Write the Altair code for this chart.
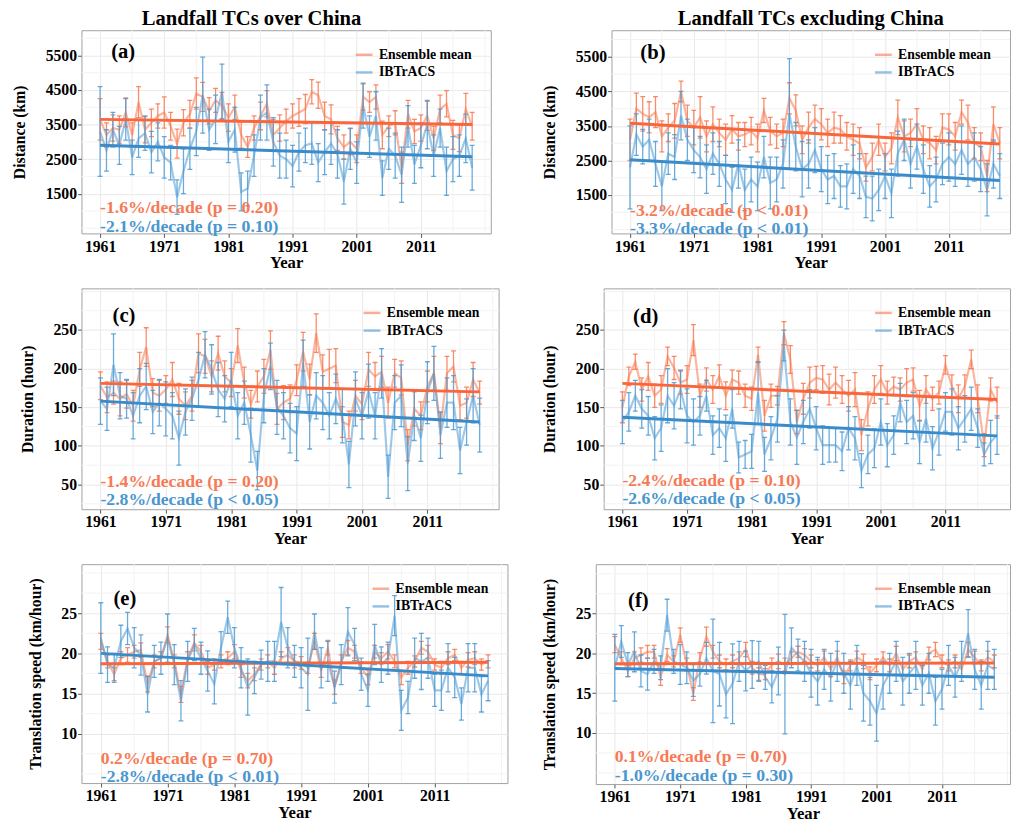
import altair as alt
import pandas as pd

# ---------------- data ----------------
YEARS = list(range(1961, 2020))
SERIES = ["Ensemble mean", "IBTrACS"]
X_TICKS = [1961, 1971, 1981, 1991, 2001, 2011]
X_MINOR = [1966, 1976, 1986, 1996, 2006, 2016, 2021]
X_START = 1958.1

# (a) Distance, landfall over China
A_ENS = [3650, 3200, 3400, 3350, 3850, 3200, 4150, 3350, 3550, 3750,
         3850, 3450, 2950, 3550, 3800, 4400, 4300, 3900, 4200, 4050,
         3700, 4000, 3200, 2850, 3400, 3750, 4100, 3200, 3400, 3600,
         3750, 3850, 3950, 4450, 4350, 3750, 3650, 3100, 2850, 3000,
         2800, 4300, 4150, 4300, 3200, 3450, 3550, 2250, 3800, 3300,
         3400, 3750, 3100, 3950, 4100, 3200, 3100, 3950, 3450]
A_ENS_ERR = [600, 350, 380, 400, 420, 350, 450, 380, 400, 350,
             450, 400, 420, 380, 400, 450, 420, 380, 350, 380,
             400, 350, 380, 300, 350, 400, 380, 450, 380, 350,
             350, 400, 420, 350, 380, 400, 420, 350, 350, 380,
             400, 380, 300, 350, 400, 300, 350, 450, 400, 350,
             380, 420, 350, 400, 380, 420, 380, 450, 400]
A_OBS = [3300, 2750, 3350, 2900, 3650, 2550, 3100, 3250, 2700, 3000,
         2550, 2400, 1400, 2150, 2800, 3300, 4350, 3350, 3650, 4450,
         3000, 3350, 1550, 1650, 2600, 3700, 3850, 3000, 2600, 2500,
         2300, 2700, 2900, 2950, 2400, 2700, 2950, 2650, 1850, 2800,
         2400, 4050, 3150, 3750, 1950, 2800, 2600, 2050, 3450, 2350,
         2900, 3500, 2600, 3400, 2150, 2500, 2600, 3100, 2250]
A_OBS_ERR = [1300, 600, 500, 550, 600, 500, 550, 500, 600, 550,
             600, 500, 500, 650, 600, 700, 1100, 600, 700, 800,
             600, 650, 550, 500, 600, 650, 800, 700, 650, 550,
             600, 550, 500, 600, 550, 650, 600, 700, 650, 600,
             600, 650, 600, 700, 500, 600, 650, 800, 600, 550,
             650, 700, 600, 550, 700, 650, 600, 700, 650]
A_TREND_ENS = [3650, 3500]
A_TREND_OBS = [2900, 2570]

# (b) Distance, landfall excluding China
B_ENS = [3100, 4000, 3850, 3750, 3900, 3200, 3450, 3650, 4500, 3650,
         3450, 3750, 3200, 3550, 3300, 3100, 3400, 3200, 3250, 3350,
         3150, 3950, 3350, 3200, 3300, 4300, 3950, 3100, 3450, 3700,
         3550, 3300, 3450, 3400, 3200, 3100, 3000, 2300, 2600, 3100,
         2600, 2850, 3750, 3200, 3300, 3550, 3100, 3000, 2800, 3450,
         3400, 3200, 3900, 3600, 3000, 2900, 2050, 3550, 3000]
B_ENS_ERR = [600, 450, 500, 450, 450, 450, 400, 500, 300, 450,
             500, 600, 450, 500, 400, 450, 400, 400, 350, 400,
             400, 350, 400, 350, 400, 450, 450, 400, 450, 400,
             450, 400, 450, 400, 400, 450, 450, 400, 400, 450,
             400, 450, 500, 450, 400, 450, 400, 450, 400, 400,
             450, 400, 350, 500, 450, 400, 450, 500, 450]
B_OBS = [2300, 3250, 2900, 3100, 2400, 1750, 2700, 2600, 3800, 3100,
         2800, 2600, 2250, 2700, 2400, 1950, 1650, 2400, 1650, 1950,
         1750, 2600, 1850, 1950, 2400, 3850, 2900, 2250, 2400, 2800,
         2250, 1950, 2050, 1750, 1750, 2250, 2050, 1450, 1400, 1650,
         2050, 1550, 2700, 3100, 2400, 2900, 2250, 1750, 1950, 2400,
         2600, 2400, 2800, 2400, 2600, 2250, 1650, 2400, 2050]
B_OBS_ERR = [1200, 600, 500, 600, 650, 700, 600, 650, 700, 600,
             650, 600, 700, 600, 650, 700, 650, 700, 600, 650,
             700, 600, 750, 650, 700, 1600, 700, 800, 700, 650,
             650, 700, 650, 600, 650, 700, 650, 600, 650, 600,
             650, 700, 650, 600, 700, 650, 700, 600, 650, 600,
             700, 650, 700, 650, 700, 650, 750, 700, 650]
B_TREND_ENS = [3580, 2980]
B_TREND_OBS = [2520, 1920]

# (c) Duration, landfall over China
C_ENS = [178, 163, 169, 161, 167, 152, 199, 228, 169, 165,
         173, 186, 161, 152, 165, 220, 216, 190, 220, 190,
         182, 230, 182, 154, 177, 190, 224, 148, 156, 161,
         185, 222, 186, 246, 196, 200, 204, 131, 127, 165,
         154, 199, 190, 196, 156, 194, 188, 101, 148, 139,
         177, 194, 123, 194, 203, 152, 156, 186, 169]
C_ENS_ERR = [18, 20, 15, 22, 18, 20, 22, 25, 18, 20,
             18, 22, 20, 18, 20, 25, 22, 20, 22, 20,
             18, 22, 20, 18, 20, 22, 25, 20, 22, 18,
             20, 25, 20, 25, 22, 25, 22, 20, 18, 20,
             20, 22, 18, 20, 20, 18, 22, 20, 22, 18,
             20, 22, 20, 22, 20, 18, 20, 22, 15]
C_OBS = [158, 148, 205, 165, 161, 139, 165, 177, 144, 156,
         148, 139, 110, 144, 161, 186, 218, 199, 173, 161,
         186, 139, 156, 114, 68, 165, 203, 150, 139, 123,
         116, 207, 131, 165, 156, 139, 161, 139, 76, 161,
         139, 171, 139, 194, 60, 156, 165, 77, 139, 110,
         169, 194, 114, 156, 156, 94, 131, 165, 127]
C_OBS_ERR = [30, 28, 40, 30, 25, 30, 35, 30, 28, 30,
             35, 30, 35, 30, 28, 35, 30, 32, 35, 30,
             35, 30, 28, 35, 25, 35, 30, 35, 30, 32,
             35, 30, 35, 30, 35, 30, 32, 35, 30, 35,
             30, 35, 30, 32, 28, 35, 40, 35, 32, 30,
             40, 35, 30, 32, 35, 30, 30, 35, 35]
C_TREND_ENS = [181, 170]
C_TREND_OBS = [158, 131]

# (d) Duration, landfall excluding China
D_ENS = [150, 190, 209, 173, 190, 165, 173, 216, 201, 182,
         186, 237, 165, 186, 173, 190, 165, 186, 182, 165,
         161, 218, 139, 165, 165, 246, 212, 131, 161, 182,
         188, 186, 173, 182, 173, 165, 173, 114, 148, 173,
         186, 169, 177, 173, 182, 186, 152, 173, 161, 169,
         205, 177, 161, 177, 212, 161, 101, 173, 156]
D_ENS_ERR = [20, 12, 10, 15, 18, 15, 18, 12, 15, 15,
             18, 20, 15, 15, 18, 15, 18, 12, 15, 15,
             15, 10, 20, 15, 12, 15, 18, 15, 20, 20,
             15, 18, 20, 20, 18, 20, 22, 20, 22, 18,
             18, 15, 12, 15, 18, 15, 20, 18, 15, 15,
             12, 15, 18, 15, 12, 18, 15, 15, 20]
D_OBS = [131, 144, 165, 148, 139, 110, 123, 165, 152, 173,
         139, 131, 139, 165, 114, 123, 110, 148, 85, 89,
         93, 169, 89, 110, 135, 230, 131, 111, 131, 148,
         123, 101, 101, 101, 93, 123, 110, 68, 89, 97,
         131, 101, 114, 156, 131, 139, 105, 135, 97, 118,
         144, 144, 123, 135, 148, 123, 89, 105, 114]
D_OBS_ERR = [28, 25, 20, 25, 25, 28, 30, 35, 30, 25,
             35, 30, 25, 20, 25, 25, 30, 25, 20, 18,
             22, 40, 22, 28, 30, 20, 30, 35, 28, 25,
             28, 25, 22, 22, 25, 28, 28, 22, 25, 25,
             30, 28, 25, 25, 28, 30, 28, 30, 28, 30,
             25, 30, 28, 30, 28, 25, 15, 28, 25]
D_TREND_ENS = [181, 160]
D_TREND_OBS = [137, 113]

# (e) Translation speed, landfall over China
E_ENS = [21.5, 19.0, 17.4, 19.4, 19.8, 20.2, 20.4, 16.2, 19.0, 19.4,
         22.3, 19.0, 14.9, 19.4, 21.3, 20.2, 18.2, 18.6, 19.0, 19.4,
         20.2, 17.8, 16.6, 17.4, 18.6, 19.0, 18.2, 19.4, 19.8, 19.0,
         18.8, 18.2, 21.5, 17.8, 20.7, 15.8, 19.0, 20.7, 20.2, 18.2,
         17.0, 20.2, 19.4, 20.2, 19.0, 17.0, 18.2, 19.0, 20.7, 20.2,
         18.6, 18.2, 19.4, 19.8, 18.2, 19.2, 19.4, 18.6, 19.0]
E_ENS_ERR = [1.0, 0.8, 0.8, 0.8, 0.9, 0.8, 0.9, 1.0, 0.8, 0.8,
             1.0, 0.8, 1.0, 0.8, 1.0, 0.8, 0.8, 0.7, 0.8, 0.8,
             0.9, 0.8, 0.9, 0.8, 0.7, 0.8, 0.8, 0.8, 0.9, 0.8,
             0.8, 0.7, 1.0, 0.8, 0.9, 0.9, 0.8, 0.9, 0.8, 0.7,
             0.9, 0.8, 0.7, 0.9, 0.8, 0.9, 0.8, 0.7, 0.8, 0.8,
             0.7, 0.8, 0.8, 0.7, 0.8, 0.9, 0.8, 0.7, 0.8]
E_OBS = [21.9, 18.6, 18.2, 21.5, 23.1, 20.7, 19.8, 14.9, 19.0, 19.4,
         21.9, 18.6, 14.1, 19.0, 21.1, 19.4, 17.8, 16.2, 20.7, 24.5,
         20.7, 18.2, 15.8, 17.0, 18.6, 19.0, 19.0, 23.9, 20.7, 19.0,
         18.2, 17.4, 22.7, 18.2, 19.0, 15.8, 18.6, 22.7, 21.1, 17.4,
         15.4, 21.1, 18.6, 19.4, 24.7, 12.9, 14.5, 19.4, 19.0, 19.4,
         15.4, 15.4, 18.2, 17.0, 13.7, 18.2, 18.2, 14.9, 16.6]
E_OBS_ERR = [4.4, 2.2, 1.8, 2.0, 2.0, 2.5, 2.5, 2.2, 2.0, 2.0,
             3.0, 2.5, 2.5, 2.5, 2.0, 2.0, 2.5, 2.5, 2.0, 2.0,
             2.5, 2.5, 3.5, 2.0, 1.8, 2.5, 2.5, 4.3, 2.5, 2.0,
             2.5, 4.5, 2.2, 2.5, 2.5, 2.0, 2.5, 3.0, 2.0, 2.0,
             2.0, 2.5, 2.2, 2.0, 2.5, 2.5, 2.0, 2.5, 3.5, 2.5,
             2.0, 2.5, 3.0, 2.5, 2.0, 3.0, 3.0, 2.2, 2.5]
E_TREND_ENS = [18.7, 18.9]
E_TREND_OBS = [20.0, 17.2]

# (f) Translation speed, landfall excluding China
F_ENS = [21.1, 19.4, 17.8, 19.4, 19.8, 20.2, 20.2, 17.0, 19.8, 19.0,
         22.3, 18.6, 14.9, 19.4, 22.1, 20.2, 19.0, 18.6, 19.0, 19.4,
         20.5, 18.2, 17.4, 17.4, 18.6, 19.0, 18.6, 19.4, 20.2, 19.8,
         19.0, 18.5, 19.5, 18.0, 19.5, 17.0, 18.5, 19.5, 19.0, 17.5,
         18.5, 19.5, 18.5, 20.0, 18.0, 19.0, 19.5, 18.0, 20.0, 20.5,
         19.0, 18.5, 19.0, 18.0, 20.5, 19.5, 18.5, 19.5, 19.0]
F_ENS_ERR = [1.0, 0.8, 0.7, 0.8, 0.9, 0.8, 0.8, 1.0, 0.8, 0.7,
             0.9, 0.8, 0.8, 0.7, 1.2, 0.8, 0.8, 0.7, 0.8, 0.8,
             0.9, 0.8, 0.8, 0.7, 0.8, 0.9, 0.8, 0.8, 0.7, 0.8,
             0.8, 0.7, 0.8, 0.9, 0.8, 0.8, 0.7, 0.8, 0.9, 0.8,
             0.8, 0.7, 0.8, 0.9, 0.8, 0.8, 0.7, 0.8, 0.8, 0.9,
             0.8, 0.7, 0.8, 0.8, 0.9, 0.8, 0.7, 0.8, 0.8]
F_OBS = [18.2, 21.5, 18.6, 20.2, 17.8, 17.4, 19.0, 18.2, 24.8, 19.0,
         18.6, 18.2, 16.6, 17.4, 19.4, 17.8, 17.4, 14.9, 16.2, 19.0,
         17.8, 18.6, 19.0, 17.0, 15.8, 17.8, 17.4, 20.7, 19.8, 19.0,
         17.5, 16.5, 18.0, 17.0, 19.0, 17.5, 16.0, 18.5, 15.0, 14.0,
         12.5, 16.0, 17.5, 19.0, 16.5, 17.5, 18.5, 16.0, 17.5, 14.0,
         15.5, 18.5, 17.0, 19.0, 22.5, 18.0, 16.0, 18.5, 18.0]
F_OBS_ERR = [4.2, 2.0, 1.5, 2.5, 2.0, 2.0, 1.5, 1.5, 2.0, 1.5,
             2.5, 2.0, 2.0, 1.5, 2.0, 6.5, 4.0, 3.0, 5.0, 2.5,
             2.5, 3.0, 2.5, 1.5, 2.0, 3.0, 7.5, 2.5, 2.0, 2.5,
             3.0, 3.0, 2.5, 3.0, 2.5, 2.5, 3.0, 2.5, 3.5, 3.0,
             3.5, 3.0, 2.5, 2.5, 3.0, 2.5, 3.0, 2.5, 2.5, 3.0,
             2.5, 2.5, 2.5, 2.5, 3.0, 2.5, 3.0, 3.0, 2.5]
F_TREND_ENS = [18.7, 18.8]
F_TREND_OBS = [18.1, 17.0]

TITLES = ["Landfall TCs over China", "Landfall TCs excluding China"]
Y_TITLES = ["Distance (km)", "Duration (hour)", "Translation speed (km/hour)"]
TAGS = ["(a)", "(b)", "(c)", "(d)", "(e)", "(f)"]
NOTES = [
    ["-1.6%/decade (p = 0.20)", "-2.1%/decade (p = 0.10)"],
    ["-3.2%/decade (p < 0.01)", "-3.3%/decade (p < 0.01)"],
    ["-1.4%/decade (p = 0.20)", "-2.8%/decade (p < 0.05)"],
    ["-2.4%/decade (p = 0.10)", "-2.6%/decade (p < 0.05)"],
    ["0.2%/decade (p = 0.70)", "-2.8%/decade (p < 0.01)"],
    ["0.1%/decade (p = 0.70)", "-1.0%/decade (p = 0.30)"],
]

Y_TICKS_DIST = [1500, 2500, 3500, 4500, 5500]
Y_MINOR_DIST = [500, 1000, 2000, 3000, 4000, 5000, 6000]
Y_TICKS_DUR = [50, 100, 150, 200, 250]
Y_MINOR_DUR = [25, 75, 125, 175, 225, 275, 300]
Y_TICKS_SPD = [10, 15, 20, 25]
Y_MINOR_SPD = [5, 7.5, 12.5, 17.5, 22.5, 27.5, 30]

# ---------------- style ----------------
FONT = "Liberation Serif"
ORANGE = "#F8784F"
BLUE = "#4E9BD3"
TREND_ORANGE = "#F9663C"
TREND_BLUE = "#3A8BC9"
TEXT_ORANGE = "#F67A55"
TEXT_BLUE = "#4A96CF"


def make_panel(ens, ens_err, obs, obs_err, tr_ens, tr_obs, ydom, yticks, yminor,
               ytitle, notes, note_y, tag, tag_y, w, h, x_end,
               title=None, title_frame="bounds"):
    xs = alt.Scale(domain=[X_START, x_end], nice=False, zero=False)
    ys = alt.Scale(domain=ydom, nice=False, zero=False)
    xax = alt.Axis(values=X_TICKS, format="d", title="Year", grid=True)
    yax = alt.Axis(values=yticks, format="d", title=ytitle, grid=True)

    def X(f):
        return alt.X(f, type="quantitative", scale=xs, axis=xax)

    def Y(f):
        return alt.Y(f, type="quantitative", scale=ys, axis=yax)

    n = len(YEARS)
    df = pd.DataFrame({
        "year": YEARS * 2,
        "value": list(ens) + list(obs),
        "err": list(ens_err) + list(obs_err),
        "series": [SERIES[0]] * n + [SERIES[1]] * n,
    })
    df["lo"] = df["value"] - df["err"]
    df["hi"] = df["value"] + df["err"]

    mx = [v for v in X_MINOR if X_START < v < x_end]
    my = [v for v in yminor if ydom[0] < v < ydom[1]]
    minor_x = alt.Chart(pd.DataFrame({"year": mx})).mark_rule(
        color="#F3F3F3", strokeWidth=1).encode(x=X("year"))
    minor_y = alt.Chart(pd.DataFrame({"value": my})).mark_rule(
        color="#F3F3F3", strokeWidth=1).encode(y=Y("value"))

    legend = alt.Legend(
        title=None, orient="none", legendX=w - 139, legendY=15,
        symbolType="stroke", symbolSize=289, symbolStrokeWidth=2.5,
        symbolOpacity=0.6, labelFont=FONT, labelFontSize=14,
        labelFontWeight="bold", labelColor="black", labelOffset=5,
        rowPadding=1, padding=0)

    lines = alt.Chart(df).mark_line(strokeWidth=2.2, opacity=0.55, clip=True).encode(
        x=X("year"), y=Y("value"),
        color=alt.Color("series:N", scale=alt.Scale(domain=SERIES, range=[ORANGE, BLUE]),
                        legend=legend))

    layers = [minor_x, minor_y, lines]
    for s, col in zip(SERIES, [ORANGE, BLUE]):
        sub = df[df["series"] == s]
        layers.append(alt.Chart(sub).mark_rule(color=col, strokeWidth=1.3, opacity=0.85, clip=True)
                      .encode(x=X("year"), y=Y("lo"), y2="hi"))
        layers.append(alt.Chart(sub).mark_tick(color=col, orient="horizontal", size=5,
                                               thickness=1.3, opacity=0.85, clip=True)
                      .encode(x=X("year"), y=Y("lo")))
        layers.append(alt.Chart(sub).mark_tick(color=col, orient="horizontal", size=5,
                                               thickness=1.3, opacity=0.85, clip=True)
                      .encode(x=X("year"), y=Y("hi")))

    for tr, col in zip([tr_ens, tr_obs], [TREND_ORANGE, TREND_BLUE]):
        tdf = pd.DataFrame({"year": [YEARS[0], YEARS[-1]], "value": tr})
        layers.append(alt.Chart(tdf).mark_line(color=col, strokeWidth=3)
                      .encode(x=X("year"), y=Y("value")))

    for txt, yv, col in zip(notes, note_y, [TEXT_ORANGE, TEXT_BLUE]):
        ndf = pd.DataFrame({"year": [YEARS[0]], "value": [yv], "label": [txt]})
        layers.append(alt.Chart(ndf).mark_text(
            align="left", baseline="middle", font=FONT, fontSize=18,
            fontWeight="bold", color=col).encode(x=X("year"), y=Y("value"), text="label"))

    tdf = pd.DataFrame({"year": [1964.6], "value": [tag_y], "label": [tag]})
    layers.append(alt.Chart(tdf).mark_text(
        align="center", baseline="middle", font=FONT, fontSize=21,
        fontWeight="bold", color="black").encode(x=X("year"), y=Y("value"), text="label"))

    props = dict(width=w, height=h)
    if title is not None:
        props["title"] = alt.TitleParams(title, font=FONT, fontSize=21, fontWeight="bold",
                                         anchor="middle", offset=1, frame=title_frame,
                                         color="black")
    return alt.layer(*layers).properties(**props)


pa = make_panel(A_ENS, A_ENS_ERR, A_OBS, A_OBS_ERR, A_TREND_ENS, A_TREND_OBS,
                [350, 6230], Y_TICKS_DIST, Y_MINOR_DIST, Y_TITLES[0], NOTES[0],
                [1070, 545], TAGS[0], 5610, 417, 207, 2021.9, title=TITLES[0])
pb = make_panel(B_ENS, B_ENS_ERR, B_OBS, B_OBS_ERR, B_TREND_ENS, B_TREND_OBS,
                [390, 6270], Y_TICKS_DIST, Y_MINOR_DIST, Y_TITLES[0], NOTES[1],
                [1040, 509], TAGS[1], 5600, 406, 207, 2020.6, title=TITLES[1],
                title_frame="group")
pc = make_panel(C_ENS, C_ENS_ERR, C_OBS, C_OBS_ERR, C_TREND_ENS, C_TREND_OBS,
                [18, 304], Y_TICKS_DUR, Y_MINOR_DUR, Y_TITLES[1], NOTES[2],
                [53.5, 30], TAGS[2], 268, 425, 225, 2021.9)
pd_ = make_panel(D_ENS, D_ENS_ERR, D_OBS, D_OBS_ERR, D_TREND_ENS, D_TREND_OBS,
                 [18, 304], Y_TICKS_DUR, Y_MINOR_DUR, Y_TITLES[1], NOTES[3],
                 [54, 30.5], TAGS[3], 267, 414, 225, 2021.0)
pe = make_panel(E_ENS, E_ENS_ERR, E_OBS, E_OBS_ERR, E_TREND_ENS, E_TREND_OBS,
                [3.85, 31.1], Y_TICKS_SPD, Y_MINOR_SPD, Y_TITLES[2], NOTES[4],
                [6.85, 4.6], TAGS[4], 26.8, 434, 223, 2021.9)
pf = make_panel(F_ENS, F_ENS_ERR, F_OBS, F_OBS_ERR, F_TREND_ENS, F_TREND_OBS,
                [3.6, 31.2], Y_TICKS_SPD, Y_MINOR_SPD, Y_TITLES[2], NOTES[5],
                [6.95, 4.55], TAGS[5], 26.6, 422, 224, 2021.4)

chart = alt.concat(pa, pb, pc, pd_, pe, pf, columns=2,
                   spacing={"row": 16, "column": 33}, align="none", bounds="full")
chart = chart.resolve_scale(color="independent").properties(
    padding={"left": 11, "top": 0, "right": 0, "bottom": 0})
chart = chart.configure_view(stroke="#A0A0A0", strokeWidth=1).configure_axis(
    labelFont=FONT, labelFontSize=16, labelFontWeight="bold", labelColor="black",
    titleFont=FONT, titleFontSize=16, titleFontWeight="bold", titleColor="black",
    gridColor="#E8E8E8", gridWidth=1, domain=False, tickColor="#555555", tickSize=4,
    labelPadding=1,
).configure_axisY(titlePadding=18).configure_axisX(titlePadding=1, titleFontSize=17)

chart.save("out.html", embed_options={"renderer": "svg", "actions": False})
